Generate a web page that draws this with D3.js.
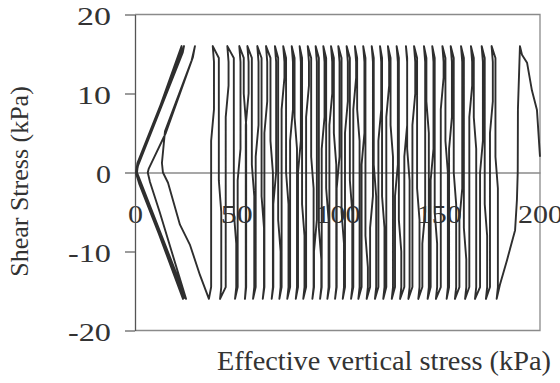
<!DOCTYPE html>
<html><head><meta charset="utf-8">
<script src="https://cdn.jsdelivr.net/npm/d3@7"></script>
<style>html,body{margin:0;padding:0;background:#fff;} svg{display:block;}</style>
</head><body><svg id="c" width="560" height="383"></svg>
<script>
// ---- data ----
const xTicks = [0, 50, 100, 150, 200];
const yTicks = [-20, -10, 0, 10, 20];
const xLabel = "Effective vertical stress (kPa)";
const yLabel = "Shear Stress (kPa)";

// first loading from the initial state (sigma'v, tau)
const initialPath = [[200,2],[198.5,7.9],[196,10.4],[193.6,13.9],[191.1,14.9],[190.1,16],
  [189.1,8],[189,0],[188.6,-3.5],[187.7,-7.3],[183.7,-11.1],[180.2,-14.2],[178.6,-16]];

// effective stress at each +16 kPa peak and each -16 kPa trough of the cycles
const peakStress = [176.1,171.2,165.9,161.0,155.9,151.8,146.8,142.7,137.8,133.8,129.2,124.9,
  121.0,116.9,112.7,108.6,104.5,100.4,96.8,93.0,89.2,85.3,81.3,77.4,73.2,69.1,64.7,60.4,55.5,51.5,45.6,38.4];
const troughStress = [178.6,173.3,167.9,163.0,158.0,153.9,148.6,144.5,139.9,135.0,130.9,126.8,
  122.6,118.5,114.4,110.3,106.7,102.6,98.8,95.0,91.4,87.6,83.1,79.4,75.2,71.3,67.5,63.1,58.3,54.3,49.4,42.0,36.5];
// shear stress where each branch shows its kink
const downKinkTau = [9,4,11,-2,7,12,3,-5,10,6,1,11,8,-3,5,12,9,2,10,7,-6,11,4,8,12,0,9,6,10,3,11,8];
const upKinkTau = [-2,-8,3,-11,-4,0,-9,5,-6,-1,-10,2,-7,-3,-12,4,-5,-9,1,-6,-11,-2,-8,3,-4,-10,0,-7,-3,6,-9,-5];

// liquefied "butterfly" loops near the origin
const butterflyPath = [[32.1,-13],[27.2,-9.2],[22.2,-6.6],[16.3,-1.3],[13.8,0],[13.3,1.2],[14.8,5.2],[28,14.2],[29.6,16],
  [28.6,14.6],[15.2,5],[6.8,0.5],[6.3,0],[7.4,-1.2],[12.3,-5.1],[25.2,-16],
  [23.8,-15],[2.5,-1],[1,0],[1.5,1.2],[12.3,8.3],[23,16],
  [22.5,15.3],[1.6,1],[0.8,0],[2,-1],[23.7,-16],
  [23.2,-15.2],[2.2,-1],[0.5,0],[1.2,1.2],[24.2,16],
  [23.6,15.2],[1.4,0.8],[0.6,-0.2],[2.2,-1.5],[24.4,-16]];

// ---- assemble the stress path ----
const stressPath = initialPath.slice();
for (let i = 0; i < peakStress.length; i++) {
  const B = troughStress[i], T = peakStress[i], B2 = troughStress[i+1];
  const c = upKinkTau[i], a = downKinkTau[i];
  stressPath.push([B+0.6,-14.5],[B+0.6,c],[B-0.6,c+4],[B-0.6,14.5],[T,16]);
  stressPath.push([T+0.6,14],[T+0.6,a],[T-0.8,a-4],[T-0.8,-14.5],[B2,-16]);
}
butterflyPath.forEach(p => stressPath.push(p));

// ---- chart ----
const svg = d3.select("#c");
const font = "'Liberation Serif','Times New Roman',serif";
const x = d3.scaleLinear().domain([0,200]).range([135,540]);
const y = d3.scaleLinear().domain([-20,20]).range([330.5,14.5]);

// frame
svg.append("path")
  .attr("d", `M${x(0)},${y(20)}H${x(200)}V${y(-20)}H${x(0)}`)
  .attr("fill","none").attr("stroke","#8a8a8a").attr("stroke-width",1.3);

// x axis along tau = 0
const xAxis = svg.append("g").attr("transform",`translate(0,${y(0)})`)
  .call(d3.axisBottom(x).tickValues(xTicks).tickSize(0).tickSizeOuter(0).tickPadding(32).tickFormat(d=>String(d)));
xAxis.select(".domain").attr("stroke","#8a8a8a").attr("stroke-width",1.3);
xAxis.selectAll("text").attr("font-family",font).attr("font-size",26).attr("fill","#333")
  .attr("textLength", d => String(d).length===1 ? 15 : (String(d).length===2 ? 32 : 45))
  .attr("lengthAdjust","spacingAndGlyphs");

// y axis
const yAxis = svg.append("g").attr("transform",`translate(${x(0)},0)`)
  .call(d3.axisLeft(y).tickValues(yTicks).tickSize(10).tickSizeOuter(0).tickPadding(14).tickFormat(d=>String(d)));
yAxis.select(".domain").attr("stroke","#555").attr("stroke-width",1.3);
yAxis.selectAll(".tick line").attr("stroke","#666").attr("stroke-width",1.3);
yAxis.selectAll("text").attr("font-family",font).attr("font-size",26).attr("fill","#333").attr("dy","0.4em")
  .attr("textLength", d => d===0 ? 15 : (d<0 ? 43 : 34))
  .attr("lengthAdjust","spacingAndGlyphs");

// stress path
const line = d3.line().x(d=>x(d[0])).y(d=>y(d[1]));
svg.append("path").datum(stressPath).attr("d",line)
  .attr("fill","none").attr("stroke","#2e2e2e").attr("stroke-width",1.9).attr("stroke-linejoin","round");

// titles
svg.append("text").attr("x",384).attr("y",370).attr("text-anchor","middle")
  .attr("font-family",font).attr("font-size",27).attr("fill","#333")
  .attr("textLength",334).attr("lengthAdjust","spacingAndGlyphs").text(xLabel);
svg.append("text").attr("transform","translate(28,181.5) rotate(-90)").attr("text-anchor","middle")
  .attr("font-family",font).attr("font-size",26).attr("fill","#333").text(yLabel);
</script></body></html>
